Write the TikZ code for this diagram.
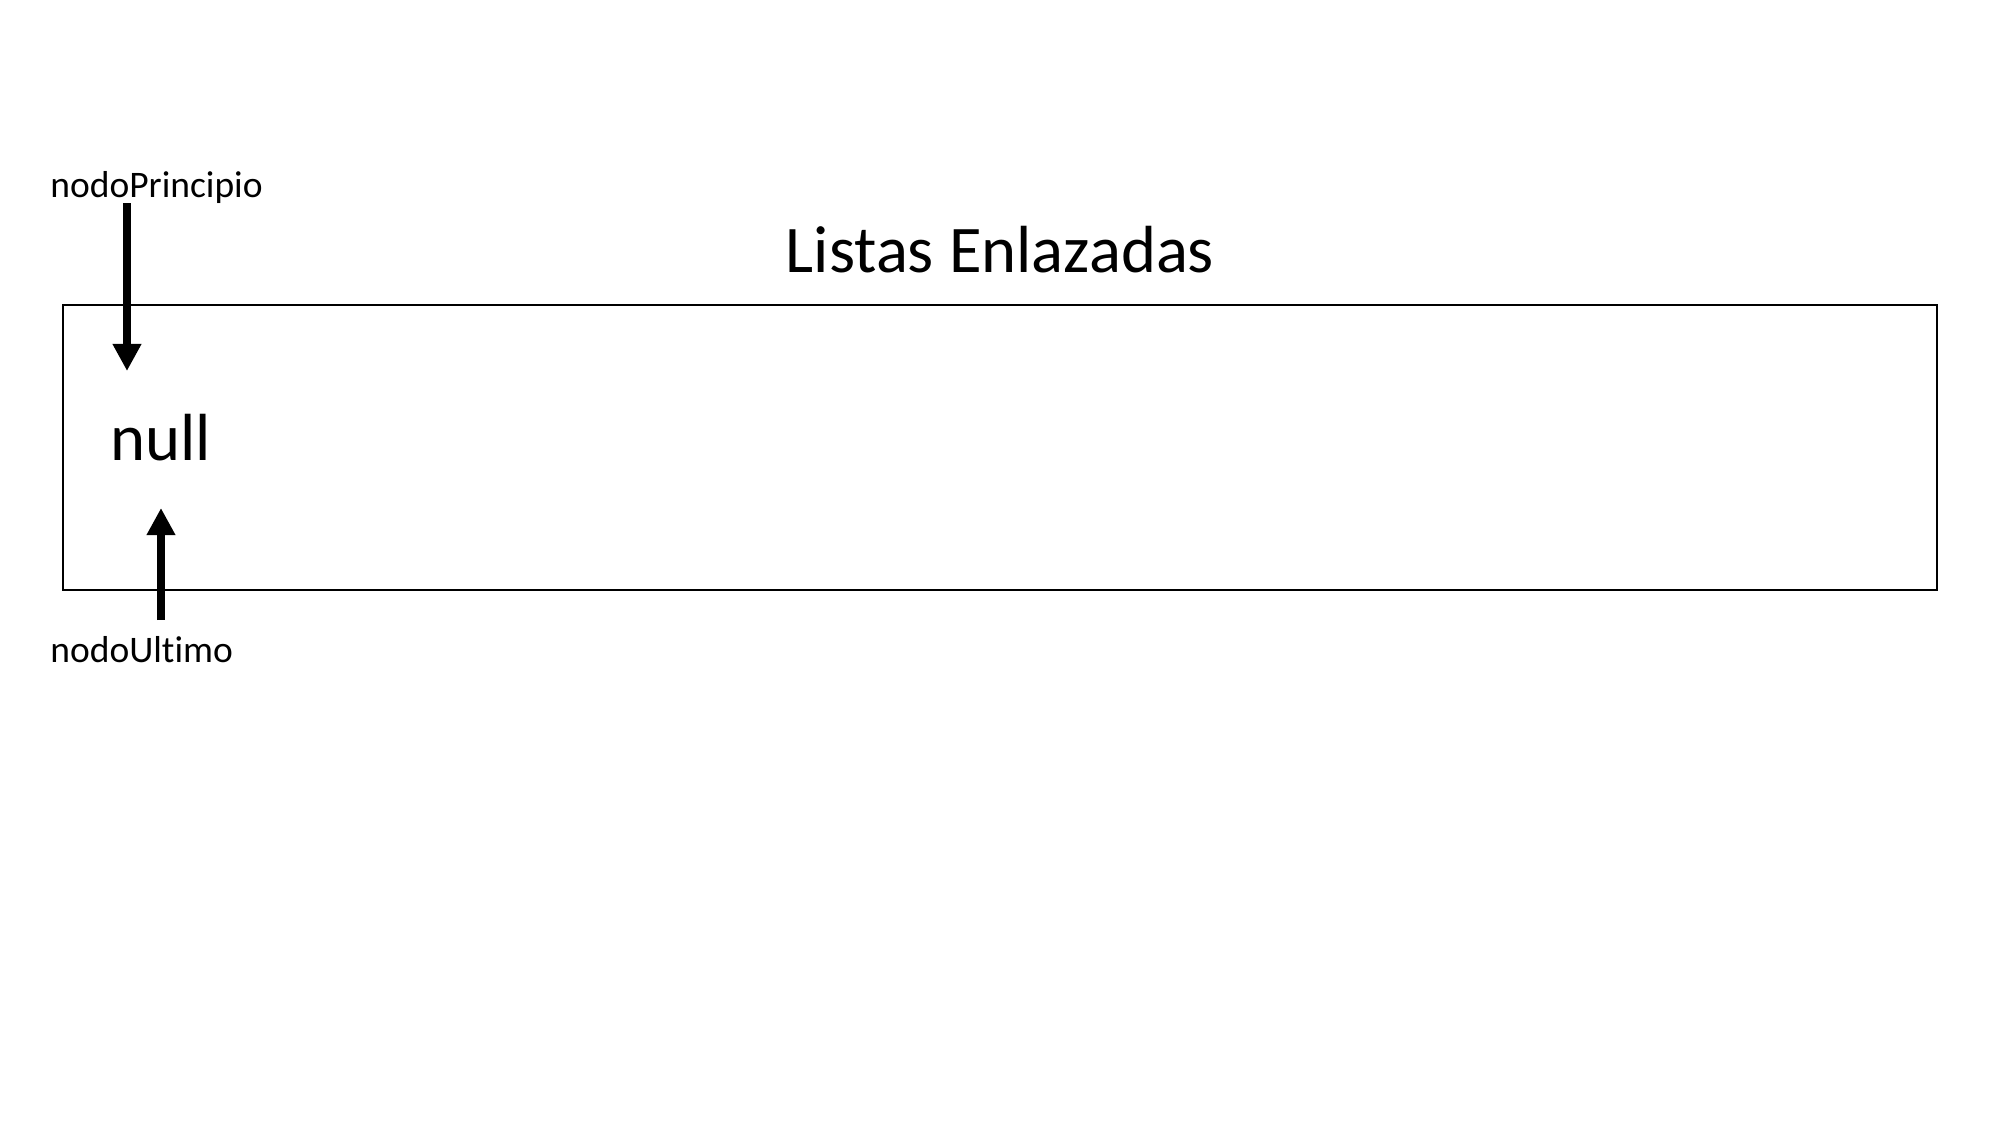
\documentclass[tikz,border=0pt]{standalone}
\usepackage{fontspec}
\setmainfont{Carlito}[Ligatures=NoCommon]
\usetikzlibrary{arrows.meta}
\begin{document}
\begin{tikzpicture}[x=0.48pt,y=-0.48pt,
  lbl/.style={inner sep=0pt,font=\fontsize{18}{21}\selectfont},
  ttl/.style={inner sep=0pt,font=\fontsize{32}{38}\selectfont},
  nulltxt/.style={inner sep=0pt,font=\fontsize{32}{38}\selectfont},
  listbox/.style={draw,line width=1pt,inner sep=0pt,minimum width=899.5pt,minimum height=136.8pt},
  bigarrow/.style={line width=4.3pt,-{Triangle[length=13pt,width=13pt]}}]
\useasboundingbox (0,0) rectangle (2000,1125);
\fill[white] (0,0) rectangle (2000,1125);
\node[ttl,anchor=base] (title) at (1000,272) {Listas Enlazadas};
\node[listbox,anchor=north west] (box) at (62,304) {};
\node[lbl,anchor=base west] (principio) at (50,197) {nodoPrincipio};
\node[nulltxt,anchor=base west] (null) at (110,460) {null};
\node[lbl,anchor=base west] (ultimo) at (50,662) {nodoUltimo};
\coordinate (a1s) at (127,203);
\coordinate (a1e) at (127,371);
\coordinate (a2s) at (161,620);
\coordinate (a2e) at (161,508);
\draw[bigarrow] (a1s) -- (a1e);
\draw[bigarrow] (a2s) -- (a2e);
\end{tikzpicture}
\end{document}
